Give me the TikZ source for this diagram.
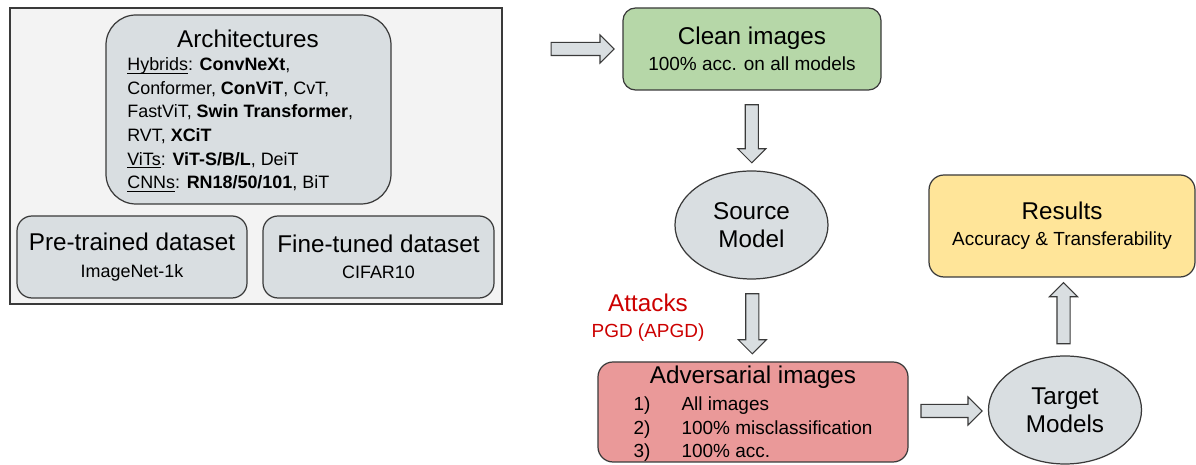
\documentclass[tikz,border=0pt]{standalone}
\usepackage{fontspec}
\setmainfont{Liberation Sans}
\usetikzlibrary{shapes.geometric,shapes.arrows,positioning,calc}

\definecolor{panelgray}{HTML}{F3F3F3}
\definecolor{boxgray}{HTML}{D9DEE1}
\definecolor{edgegray}{HTML}{3A3A3A}
\definecolor{cleangreen}{HTML}{B6D7A8}
\definecolor{advred}{HTML}{EA9999}
\definecolor{resyellow}{HTML}{FFE599}
\definecolor{attackred}{HTML}{CC0000}

\newcommand{\titlefnt}{\fontsize{13.8}{16}\selectfont}
\newcommand{\smallfnt}{\fontsize{10.8}{13.4}\selectfont}
\newcommand{\listfnt}{\fontsize{10.2}{13.4}\selectfont}
\newcommand{\ulword}[1]{\underline{\smash{#1}}}

\tikzset{
  box/.style={draw=edgegray, line width=0.7pt, fill=boxgray, rounded corners=0.3cm,
    align=center, inner sep=0pt},
  oval/.style={ellipse, draw=edgegray, line width=0.7pt, fill=boxgray, align=center,
    minimum width=3.06cm, minimum height=2.16cm, inner sep=0pt, font=\titlefnt},
  blockarrow/.style={single arrow, draw=edgegray, line width=0.6pt, fill=boxgray,
    inner sep=0.12cm, single arrow head extend=0.15cm, minimum height=#1},
}

\begin{document}
\begin{tikzpicture}
\useasboundingbox (0,0) rectangle (23.92,9.3);

% left panel: models and datasets
\node[draw=edgegray, fill=panelgray, line width=0.7pt, minimum width=9.84cm, minimum height=5.92cm] (panel) at (5.12,6.18) {};
\node[box, rounded corners=0.6cm, minimum width=5.7cm, minimum height=3.78cm] (arch) at (4.97,7.11) {};
\node[font=\titlefnt] (archtitle) at (4.96,8.52) {Architectures};
\node[anchor=north west, align=left, inner sep=0pt, font=\listfnt] (archlist) at (2.54,8.14)
  {\ulword{Hybrids}: \textbf{ConvNeXt},\\
   Conformer, \textbf{ConViT}, CvT,\\
   FastViT, \textbf{Swin Transformer},\\
   RVT, \textbf{XCiT}\\
   \ulword{ViTs}: \textbf{ViT-S/B/L}, DeiT\\
   \ulword{CNNs}: \textbf{RN18/50/101}, BiT};

\node[box, minimum width=4.6cm, minimum height=1.64cm] (pretrain) at (2.64,4.16)
  {{\titlefnt Pre-trained dataset}\\[3pt]{\listfnt ImageNet-1k}};
\node[box, minimum width=4.62cm, minimum height=1.64cm] (finetune) at (7.57,4.16)
  {{\titlefnt Fine-tuned dataset}\\[3pt]{\listfnt CIFAR10}};

% right side: pipeline
\node[box, fill=cleangreen, rounded corners=0.25cm, minimum width=5.16cm, minimum height=1.64cm] (clean) at (15.04,8.32)
  {{\titlefnt Clean images}\\[3pt]{\smallfnt 100\% acc. on all models}};
\node[oval] (source) at (15.03,4.8) {Source\\Model};
\node[box, fill=advred, minimum width=6.2cm, minimum height=2.0cm] (adv) at (15.06,1.06) {};
\node[align=center, inner sep=0pt] (advtext) at (15.06,0.99)
  {{\titlefnt Adversarial images}\\[2pt]
   {\smallfnt\begin{tabular}{@{}p{0.96cm}@{}l@{}}
     1) & All images\\
     2) & 100\% misclassification\\
     3) & 100\% acc.
   \end{tabular}}};
\node[oval] (target) at (21.3,1.1) {Target\\Models};
\node[box, fill=resyellow, minimum width=5.32cm, minimum height=2.04cm] (results) at (21.24,4.78)
  {{\titlefnt Results}\\[3pt]{\smallfnt Accuracy \& Transferability}};

\node[text=attackred, align=center, inner sep=0pt] (attacks) at (12.96,2.95)
  {{\titlefnt Attacks}\\[3pt]{\smallfnt PGD (APGD)}};

% block arrows
\node[blockarrow=1.26cm] (a1) at ($(panel.east |- clean.west)!0.64!(clean.west)$) {};
\node[blockarrow=1.16cm, rotate=-90] (a2) at ($(clean.south)!0.5!(source.north)$) {};
\node[blockarrow=1.2cm, rotate=-90] (a3) at ($(source.south)!0.5!(adv.north)$) {};
\node[blockarrow=1.22cm] (a4) at ($(adv.east)!0.5!(target.west)$) {};
\node[blockarrow=1.22cm, rotate=90] (a5) at ($(target.north)!0.5!(results.south)$) {};
\end{tikzpicture}
\end{document}
